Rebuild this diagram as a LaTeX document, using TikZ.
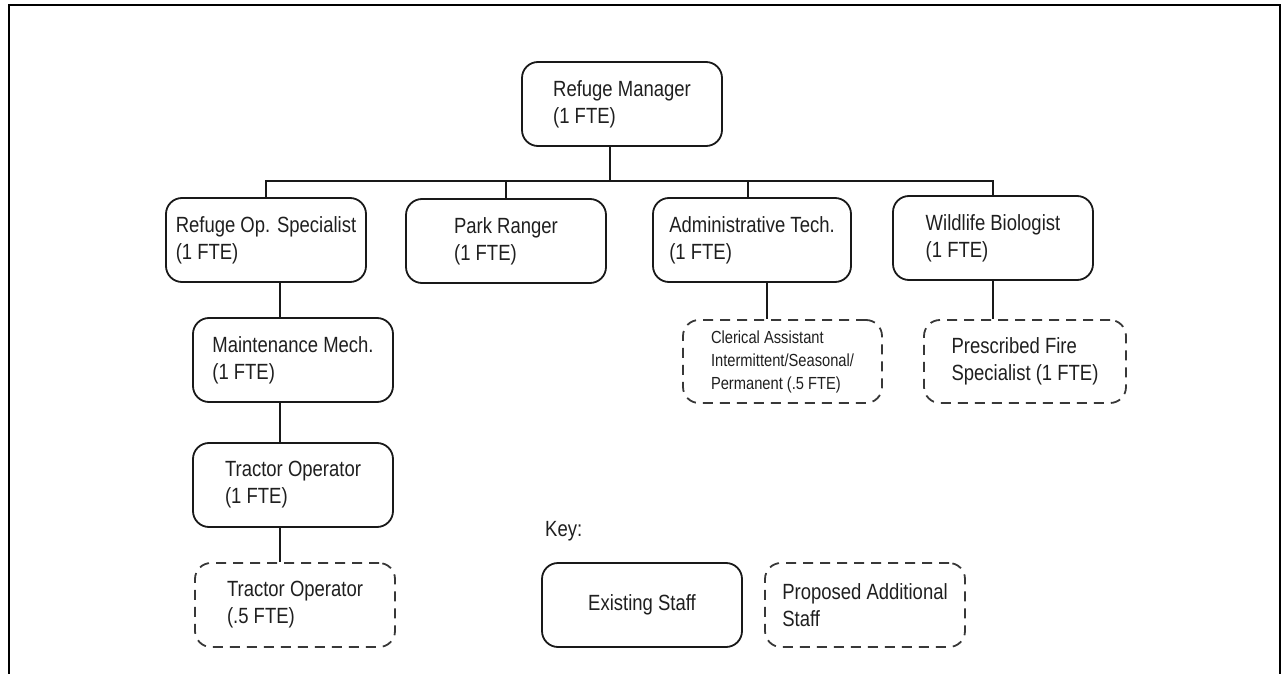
\documentclass[tikz,border=0pt]{standalone}
\usepackage{fontspec}
\setmainfont{Liberation Sans}[FakeStretch=0.84]
\begin{document}
\begin{tikzpicture}[x=1pt,y=-1pt,
  staff/.style={draw=black!90, rounded corners=16pt, line width=1.8pt,
    minimum width=200pt, minimum height=84pt, align=left, inner sep=0pt,
    text=black!88, font=\fontsize{22}{27}\selectfont},
  proposed/.style={staff, draw=black!78, dash pattern=on 10pt off 7pt},
  small/.style={font=\fontsize{17.5}{23}\selectfont},
  conn/.style={draw=black!90, line width=1.7pt},
  frame/.style={line width=2.3pt, draw=black}]
\useasboundingbox (0,0) rectangle (1283,674);
\draw[frame] (9,674) -- (9,5) -- (1280,5) -- (1280,674);

\node[staff] (mgr) at (622,104) {Refuge Manager\\(1 FTE)};
\node[staff] (ops) at (266,240) {Refuge Op. Specialist\\(1 FTE)};
\node[staff] (pr) at (506,241) {Park Ranger\\(1 FTE)};
\node[staff, minimum width=198pt] (adm) at (752,240) {Administrative Tech.\\(1 FTE)};
\node[staff] (wb) at (993,238) {Wildlife Biologist\\(1 FTE)};
\node[staff] (maint) at (293,360) {Maintenance Mech.\\(1 FTE)};
\node[staff] (tr1) at (293,485) {Tractor Operator\\(1 FTE)};
\node[proposed] (tr2) at (295,605) {Tractor Operator\\(.5 FTE)};
\node[proposed, small, minimum width=199pt, minimum height=83pt] (cler) at (782.5,361.5) {Clerical Assistant\\Intermittent/Seasonal/\\Permanent (.5 FTE)};
\node[proposed, minimum width=202pt, minimum height=83pt] (presc) at (1025,361.5) {Prescribed Fire\\Specialist (1 FTE)};

\node[anchor=base west, inner sep=0pt, text=black!88, font=\fontsize{22}{27}\selectfont] (key) at (545,536) {Key:};
\node[staff] (exist) at (642,605) {Existing Staff};
\node[proposed] (prop) at (865,605) {Proposed Additional\\Staff};

\coordinate (bus) at (0,181);
\draw[conn] (ops.north) |- (wb.north |- bus) -- (wb.north);
\draw[conn] (pr.north) -- (pr.north |- bus);
\draw[conn] ([xshift=-4pt]adm.north) -- ([xshift=-4pt]adm.north |- bus);
\draw[conn] ([xshift=-12pt]mgr.south) -- ([xshift=-12pt]mgr.south |- bus);

\draw[conn] ([xshift=-13pt]maint.north |- ops.south) -- ([xshift=-13pt]maint.north);
\draw[conn] ([xshift=-13pt]maint.south) -- ([xshift=-13pt]tr1.north);
\draw[conn] ([xshift=-13pt]tr1.south) -- ([xshift=-13pt]tr1.south |- tr2.north);
\draw[conn] ([xshift=15pt]adm.south) -- ([xshift=15pt]adm.south |- cler.north);
\draw[conn] (wb.south) -- (wb.south |- presc.north);
\end{tikzpicture}
\end{document}
